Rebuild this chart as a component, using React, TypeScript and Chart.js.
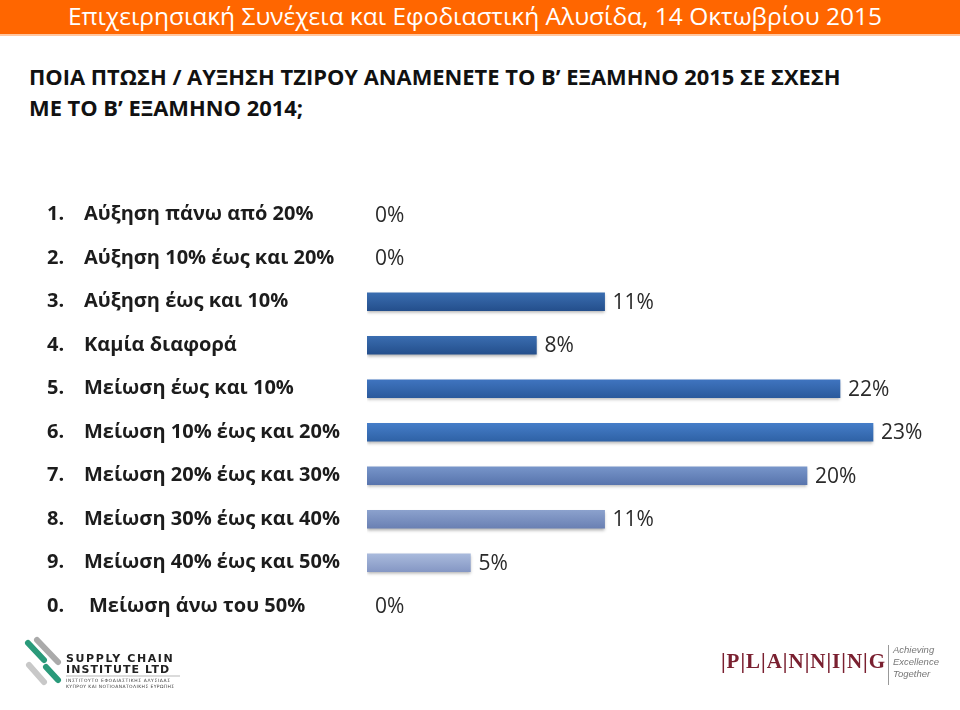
import React, { useEffect, useRef } from "react";
import { Chart, registerables } from "chart.js";

Chart.register(...registerables);

const headerTitle = "Επιχειρησιακή Συνέχεια και Εφοδιαστική Αλυσίδα, 14 Οκτωβρίου 2015";
const questionLines = [
  "ΠΟΙΑ ΠΤΩΣΗ / ΑΥΞΗΣΗ ΤΖΙΡΟΥ ΑΝΑΜΕΝΕΤΕ ΤΟ Β’ ΕΞΑΜΗΝΟ 2015 ΣΕ ΣΧΕΣΗ",
  "ΜΕ ΤΟ Β’ ΕΞΑΜΗΝΟ 2014;",
];

const categoryNumbers = ["1.", "2.", "3.", "4.", "5.", "6.", "7.", "8.", "9.", "0."];
const categoryLabels = [
  "Αύξηση πάνω από 20%",
  "Αύξηση 10% έως και 20%",
  "Αύξηση έως και 10%",
  "Καμία διαφορά",
  "Μείωση έως και 10%",
  "Μείωση 10% έως και 20%",
  "Μείωση 20% έως και 30%",
  "Μείωση 30% έως και 40%",
  "Μείωση 40% έως και 50%",
  "Μείωση άνω του 50%",
];
const values = [0, 0, 10.8, 7.7, 21.5, 23.0, 20.0, 10.8, 4.7, 0];
const valueLabels = ["0%", "0%", "11%", "8%", "22%", "23%", "20%", "11%", "5%", "0%"];
const barTopColors = ["#3a6db0", "#3a6db0", "#3a6db0", "#3a6db0", "#3f74bf", "#457dc8", "#7795c9", "#8ba1cd", "#a9badc", "#a9badc"];
const barBottomColors = ["#244f8c", "#244f8c", "#244f8c", "#244f8c", "#2b5a9c", "#2f62a6", "#5874ad", "#6a80b3", "#8597c4", "#8597c4"];

const FONT = "'Open Sans', 'Noto Sans', sans-serif";

function ChartCanvas() {
  const ref = useRef<HTMLCanvasElement | null>(null);
  useEffect(() => {
    const canvas = ref.current;
    if (!canvas) return;

    const labelPlugin = {
      id: "labelPlugin",
      afterDatasetsDraw(chart: any) {
        const ctx = chart.ctx;
        const xs = chart.scales.x;
        const ys = chart.scales.y;
        ctx.save();
        ctx.textBaseline = "middle";
        for (let i = 0; i < categoryLabels.length; i++) {
          const y = ys.getPixelForValue(i);
          ctx.fillStyle = "#1c1c1c";
          ctx.font = `bold 20px ${FONT}`;
          ctx.textAlign = "left";
          ctx.fillText(categoryNumbers[i], 47, y);
          ctx.fillText(categoryLabels[i], i === 9 ? 89 : 84, y);
          ctx.font = `21px ${FONT}`;
          ctx.fillStyle = "#2a2a2a";
          const x = xs.getPixelForValue(values[i]) + 8;
          ctx.fillText(valueLabels[i], x, y + 1);
        }
        ctx.restore();
      },
    };

    const shadowPlugin = {
      id: "shadowPlugin",
      beforeDatasetDraw(chart: any) {
        const ctx = chart.ctx;
        ctx.save();
        ctx.shadowColor = "rgba(0,0,0,0.3)";
        ctx.shadowBlur = 3;
        ctx.shadowOffsetY = 2;
        ctx.shadowOffsetX = 0;
      },
      afterDatasetDraw(chart: any) {
        chart.ctx.restore();
      },
    };

    const chart = new Chart(canvas, {
      type: "bar",
      data: {
        labels: categoryLabels,
        datasets: [
          {
            data: values,
            barThickness: 18,
            borderWidth: 0,
            backgroundColor: (context: any) => {
              const c = context.chart;
              const i = context.dataIndex;
              if (i === undefined) return barTopColors[0];
              if (!values[i]) return "rgba(0,0,0,0)";
              const ys = c.scales && c.scales.y;
              if (!ys || !c.chartArea) return barTopColors[i];
              const y = ys.getPixelForValue(i);
              const g = c.ctx.createLinearGradient(0, y - 9, 0, y + 9);
              g.addColorStop(0, barTopColors[i]);
              g.addColorStop(1, barBottomColors[i]);
              return g;
            },
          },
        ],
      },
      options: {
        indexAxis: "y",
        responsive: false,
        animation: false,
        events: [],
        layout: { padding: { left: 367, right: 43, top: 193, bottom: 82 } },
        plugins: { legend: { display: false }, tooltip: { enabled: false } },
        scales: {
          x: { display: false, min: 0, max: 25 },
          y: { display: false, offset: true },
        },
      },
      plugins: [shadowPlugin, labelPlugin],
    });
    return () => chart.destroy();
  }, []);
  return <canvas ref={ref} width={960} height={710} style={{ position: "absolute", left: 0, top: 0 }} />;
}

export default function App() {
  return (
    <div style={{ position: "fixed", left: 0, top: 0, width: 960, height: 710, background: "#fff", overflow: "hidden", fontFamily: FONT }}>
      <div style={{ position: "absolute", left: 0, top: 0, width: 960, height: 34, background: "#ff6600" }} />
      <div style={{ position: "absolute", left: 0, top: 34, width: 960, height: 2, background: "#ffc7a1" }} />
      <div style={{ position: "absolute", left: 68, top: 0, color: "#fff", fontSize: 24.5, lineHeight: "32px", whiteSpace: "nowrap" }}>{headerTitle}</div>
      {questionLines.map((t, i) => (
        <div key={i} style={{ position: "absolute", left: 29, top: 62 + i * 31, color: "#111", fontWeight: 700, fontSize: 21.9, lineHeight: "30px", whiteSpace: "nowrap" }}>{t}</div>
      ))}
      <ChartCanvas />
      {/* Supply Chain Institute logo */}
      <svg style={{ position: "absolute", left: 20, top: 630 }} width={170} height={75}>
        <line x1={8} y1={13} x2={24} y2={30} stroke="#2a9a7a" strokeWidth={6} strokeLinecap="round" />
        <line x1={17} y1={10} x2={38} y2={32} stroke="#aaaaaa" strokeWidth={6} strokeLinecap="round" />
        <line x1={9} y1={35} x2={24} y2={52} stroke="#c8c8c8" strokeWidth={6} strokeLinecap="round" />
        <line x1={26} y1={37} x2={38} y2={50} stroke="#2a9a7a" strokeWidth={6} strokeLinecap="round" />
        <text x={46} y={32} fontFamily="'DejaVu Sans', sans-serif" fontWeight={700} fontSize={11} fill="#222" letterSpacing={1.6}>SUPPLY CHAIN</text>
        <text x={46} y={43} fontFamily="'DejaVu Sans', sans-serif" fontWeight={700} fontSize={11} fill="#222" letterSpacing={1.1}>INSTITUTE LTD</text>
        <line x1={46} y1={46} x2={160} y2={46} stroke="#888" strokeWidth={0.6} />
        <text x={46} y={52} fontFamily="'DejaVu Sans', sans-serif" fontSize={4.5} fill="#444" letterSpacing={0.6}>ΙΝΣΤΙΤΟΥΤΟ ΕΦΟΔΙΑΣΤΙΚΗΣ ΑΛΥΣΙΔΑΣ</text>
        <text x={46} y={58} fontFamily="'DejaVu Sans', sans-serif" fontSize={4.5} fill="#444" letterSpacing={0.4}>ΚΥΠΡΟΥ ΚΑΙ ΝΟΤΙΟΑΝΑΤΟΛΙΚΗΣ ΕΥΡΩΠΗΣ</text>
      </svg>
      {/* Planning logo */}
      <div style={{ position: "absolute", left: 721, top: 649, fontFamily: "'Liberation Serif', serif", fontWeight: 700, fontSize: 21, color: "#7a2030", letterSpacing: 1, whiteSpace: "nowrap" }}>
        |P|L|A|N|N|I|N|G
      </div>
      <div style={{ position: "absolute", left: 888, top: 645, width: 1, height: 40, background: "#999" }} />
      <div style={{ position: "absolute", left: 893, top: 644, fontFamily: "'Liberation Sans', sans-serif", fontStyle: "italic", fontSize: 9.5, lineHeight: "12px", color: "#777" }}>
        Achieving<br />Excellence<br />Together
      </div>
    </div>
  );
}
